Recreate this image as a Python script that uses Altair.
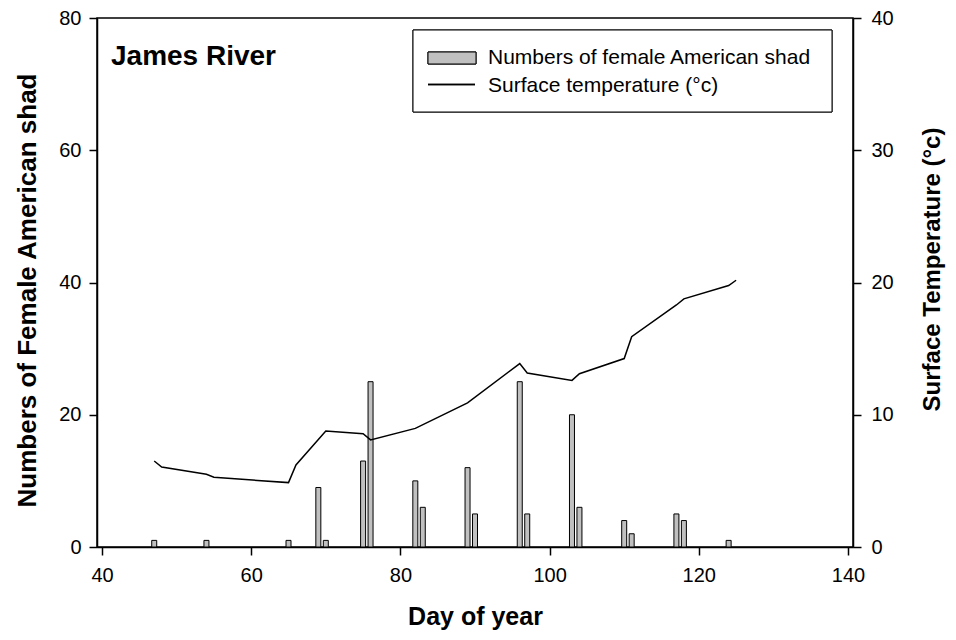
import altair as alt
import pandas as pd

# bars: female American shad counts by day of year
bar_days = [47, 54, 65, 69, 70, 75, 76, 82, 83, 89, 90, 96, 97, 103, 104, 110, 111, 117, 118, 124]
shad_counts = [1, 1, 1, 9, 1, 13, 25, 10, 6, 12, 5, 25, 5, 20, 6, 4, 2, 5, 4, 1]

# line: surface temperature
temp_days = [47, 48, 54, 55, 65, 66, 70, 75, 76, 82, 89, 96, 97, 103, 104, 110, 111, 117, 118, 124, 125]
temps = [6.5, 6.05, 5.5, 5.27, 4.87, 6.2, 8.77, 8.57, 8.1, 8.97, 10.9, 13.87, 13.16,
         12.6, 13.1, 14.25, 15.9, 18.3, 18.76, 19.77, 20.17]

legend_labels = ["Numbers of female American shad", "Surface temperature (°c)"]
x_ticks = [40, 60, 80, 100, 120, 140]
left_ticks = [0, 20, 40, 60, 80]
right_ticks = [0, 10, 20, 30, 40]
panel_label = ["James River"]

FONT = "Liberation Sans"
BAR_FILL = "#c0c0c0"

bars_df = pd.DataFrame({"day": bar_days, "count": shad_counts})
temp_df = pd.DataFrame({"day": temp_days, "temp": temps})
label_df = pd.DataFrame({"label": panel_label})

x_enc = alt.X(
    "day:Q",
    scale=alt.Scale(domain=[40, 140], nice=False),
    axis=alt.Axis(values=x_ticks, title="Day of year", labelFlush=False,
                  labelPadding=10, titleY=69, titleBaseline="middle",
                  titleFontSize=25),
)

bars = alt.Chart(bars_df).mark_bar(
    size=5, fill=BAR_FILL, stroke="black", strokeWidth=1
).encode(
    x=x_enc,
    y=alt.Y(
        "count:Q",
        scale=alt.Scale(domain=[0, 80], nice=False),
        axis=alt.Axis(values=left_ticks, title="Numbers of Female American shad",
                      orient="left", labelPadding=8, titleAngle=270,
                      titleX=-70, titleY=272, titleBaseline="middle",
                      titleFontSize=26),
    ),
)

line = alt.Chart(temp_df).mark_line(color="black", strokeWidth=1.5).encode(
    x=alt.X("day:Q"),
    y=alt.Y(
        "temp:Q",
        scale=alt.Scale(domain=[0, 40], nice=False),
        axis=alt.Axis(values=right_ticks, title="Surface Temperature (°c)",
                      orient="right", labelPadding=10, titleAngle=270,
                      titleX=79, titleY=251, titleBaseline="middle",
                      titleFontSize=24),
    ),
)

label = alt.Chart(label_df).mark_text(
    align="left", baseline="alphabetic", font=FONT, fontSize=28,
    fontWeight="bold", color="black",
).encode(x=alt.value(14), y=alt.value(47), text="label:N")

# legend box (placed in pixels inside the plot area, upper right)
leg_df = pd.DataFrame({"label": legend_labels})
leg_frame = alt.Chart(leg_df).mark_rect(
    fill="white", stroke="black", strokeWidth=1
).encode(x=alt.value(316), x2=alt.value(735), y=alt.value(12), y2=alt.value(94))
leg_bar = alt.Chart(leg_df).mark_rect(
    fill=BAR_FILL, stroke="black", strokeWidth=1
).encode(x=alt.value(331), x2=alt.value(379), y=alt.value(34), y2=alt.value(46))
leg_line = alt.Chart(leg_df).mark_rule(color="black", strokeWidth=1.5).encode(
    x=alt.value(331), x2=alt.value(378), y=alt.value(66.5)
)
leg_text1 = alt.Chart(leg_df).transform_filter(
    alt.datum.label == legend_labels[0]
).mark_text(align="left", baseline="middle", font=FONT, fontSize=21, color="black").encode(
    x=alt.value(391), y=alt.value(40), text="label:N"
)
leg_text2 = alt.Chart(leg_df).transform_filter(
    alt.datum.label == legend_labels[1]
).mark_text(align="left", baseline="middle", font=FONT, fontSize=21, color="black").encode(
    x=alt.value(391), y=alt.value(68), text="label:N"
)

chart = (
    alt.layer(bars, line, label, leg_frame, leg_bar, leg_line, leg_text1, leg_text2)
    .resolve_scale(y="independent")
    .properties(
        width=756,
        height=529,
        padding={"left": 89, "top": 10, "right": 95, "bottom": 85},
        autosize=alt.AutoSizeParams(type="none"),
    )
    .configure_axis(
        domainColor="black", domainWidth=1.5, tickColor="black", tickWidth=1.5,
        tickSize=8, labelColor="black", labelFont=FONT, labelFontSize=20,
        titleFont=FONT, titleFontSize=24, titleFontWeight="bold",
        titleColor="black", grid=False,
    )
    .configure_view(stroke="black", strokeWidth=1.5)
)

chart.save("out.html", embed_options={"renderer": "svg", "actions": False})
